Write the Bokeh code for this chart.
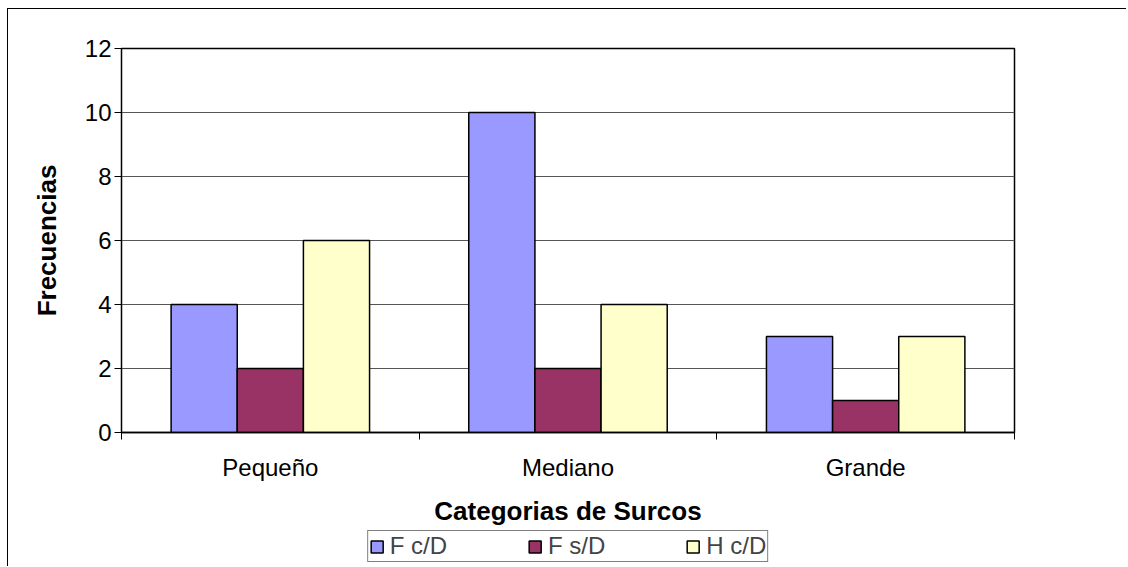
from bokeh.plotting import figure
from bokeh.layouts import column
from bokeh.models import (ColumnDataSource, Range1d, FixedTicker, Legend, LegendItem)
from bokeh.transform import dodge
from bokeh.embed import file_html
from bokeh.resources import INLINE

categories = ["Pequeño", "Mediano", "Grande"]
series_names = ["F c/D", "F s/D", "H c/D"]
f_cd = [4, 10, 3]
f_sd = [2, 2, 1]
h_cd = [6, 4, 3]
y_ticks = [0, 2, 4, 6, 8, 10, 12]

colors = ["#9999FF", "#993366", "#FFFFCC"]
FONT = "Liberation Sans"
cols = ["f_cd", "f_sd", "h_cd"]

xc = [i + 0.5 for i in range(len(categories))]
source = ColumnDataSource(dict(x=xc, cat=categories, f_cd=f_cd, f_sd=f_sd, h_cd=h_cd))

p = figure(output_backend="svg", toolbar_location=None,
           x_range=Range1d(0, len(categories)), y_range=Range1d(0, 12),
           frame_width=893, frame_height=384,
           min_border_left=113, min_border_top=39, min_border_right=112, min_border_bottom=97)

bw = 1 / 4.5
for j, (col, c) in enumerate(zip(cols, colors)):
    p.vbar(x=dodge("x", (j - 1) * bw), top=col, width=bw, source=source,
           fill_color=c, line_color="#000000", line_width=1.5)

# axes
p.xaxis.ticker = FixedTicker(ticks=xc, minor_ticks=list(range(len(categories) + 1)))
p.xaxis.major_label_overrides = {x: c for x, c in zip(xc, categories)}
p.xaxis.major_tick_out = 0
p.xaxis.major_tick_in = 0
p.xaxis.minor_tick_out = 7
p.xaxis.minor_tick_in = 0
p.xaxis.minor_tick_line_color = "#000000"
p.xaxis.axis_line_color = "#000000"
p.xaxis.axis_line_width = 1.5
p.xaxis.major_label_standoff = 14
p.xaxis.axis_label = "Categorias de Surcos"
p.xaxis.axis_label_standoff = 12

p.yaxis.ticker = FixedTicker(ticks=y_ticks)
p.yaxis.major_tick_out = 7
p.yaxis.major_tick_in = 0
p.yaxis.minor_tick_line_color = None
p.yaxis.axis_line_color = "#000000"
p.yaxis.major_tick_line_color = "#000000"
p.yaxis.major_label_standoff = 3
p.yaxis.axis_label = "Frecuencias"
p.yaxis.axis_label_standoff = 20

for ax in (p.xaxis, p.yaxis):
    ax.major_label_text_font = FONT
    ax.major_label_text_font_size = "24px"
    ax.major_label_text_color = "#000000"
    ax.axis_label_text_font = FONT
    ax.axis_label_text_font_size = "26px"
    ax.axis_label_text_font_style = "bold"
    ax.axis_label_text_color = "#000000"

p.xgrid.grid_line_color = None
p.ygrid.ticker = FixedTicker(ticks=y_ticks)
p.ygrid.grid_line_color = "#555555"
p.ygrid.grid_line_width = 1

p.outline_line_color = "#000000"
p.outline_line_width = 1.5
p.background_fill_color = "#FFFFFF"
p.border_fill_color = "#FFFFFF"

# legend strip (separate figure so the legend is drawn inside its own frame)
lf = figure(output_backend="svg", toolbar_location=None,
            x_range=Range1d(0, len(categories)), y_range=Range1d(0, 12),
            x_axis_type=None, y_axis_type=None,
            frame_width=893, frame_height=37,
            min_border_left=113, min_border_right=112, min_border_top=0, min_border_bottom=0)
lf.grid.grid_line_color = None
lf.outline_line_color = None
lf.border_fill_color = "#FFFFFF"
lf.background_fill_color = "#FFFFFF"

items = []
for j, (col, name, c) in enumerate(zip(cols, series_names, colors)):
    r = lf.vbar(x=dodge("x", (j - 1) * bw), top=col, width=bw, source=source,
                fill_color=c, line_color="#000000", line_width=1.5, visible=False)
    items.append(LegendItem(label=name, renderers=[r]))

legend = Legend(items=items, orientation="horizontal", location="top_center",
                glyph_width=15, glyph_height=15, label_standoff=6, spacing=80, padding=1,
                label_text_font=FONT, label_text_font_size="24px",
                border_line_color="#000000", border_line_width=1,
                inactive_fill_alpha=0.0, margin=1)
lf.add_layout(legend, "center")

layout = column(p, lf, spacing=0,
                styles={"border-top": "1px solid #000000", "border-left": "1px solid #000000",
                        "margin-left": "7px", "margin-top": "8px"})

open("out.html", "w").write(file_html(layout, INLINE))
